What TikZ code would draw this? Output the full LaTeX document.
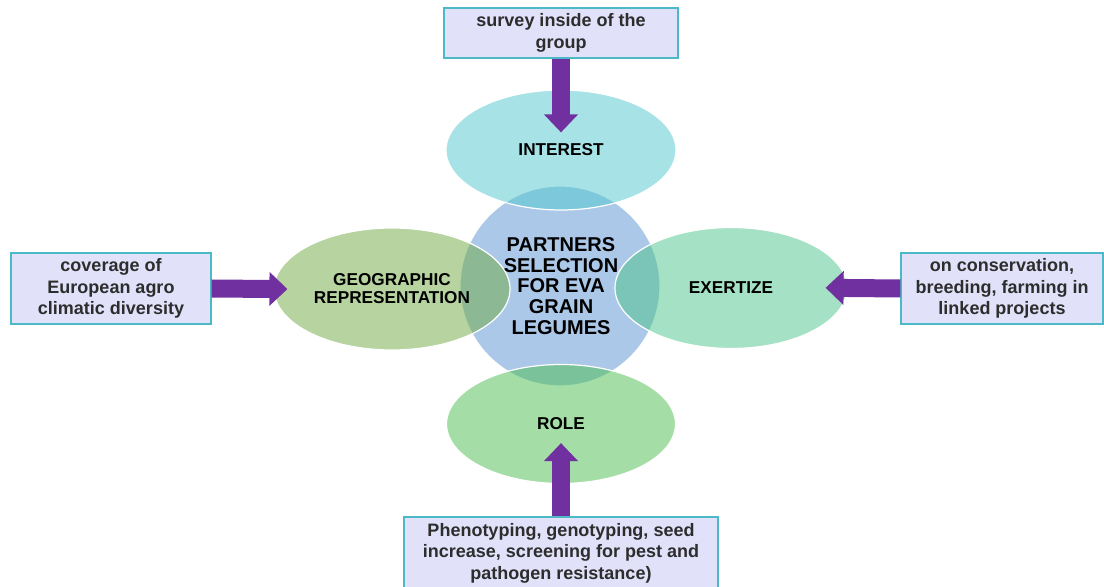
\documentclass[tikz,border=0pt]{standalone}
\usepackage{fontspec}
\setmainfont{Liberation Sans}
\usetikzlibrary{shapes.geometric, arrows.meta}
\definecolor{arrowpurple}{RGB}{112, 48, 160}
\definecolor{boxlilac}{RGB}{225, 225, 250}
\definecolor{boxteal}{RGB}{75, 185, 200}
\definecolor{hubblue}{RGB}{172, 200, 232}
\definecolor{interestteal}{RGB}{80, 200, 205}
\definecolor{geogreen}{RGB}{111, 169, 65}
\definecolor{expertmint}{RGB}{75, 195, 137}
\definecolor{rolegreen}{RGB}{73, 189, 77}
\definecolor{labelgray}{RGB}{45, 45, 45}

\begin{document}
\begin{tikzpicture}[
    x=0.5pt, y=-0.5pt,
    infobox/.style={rectangle, draw=boxteal, line width=0.6pt, fill=boxlilac, align=center,
                    inner sep=0pt, text=labelgray, font=\fontsize{9}{10.75}\selectfont\bfseries},
    topic/.style={ellipse, draw=white, line width=0.6pt, fill opacity=0.5, text opacity=1,
                  inner sep=0pt, align=center, font=\fontsize{8.6}{9}\selectfont\bfseries},
    feed/.style={draw=arrowpurple, line width=9pt, -{Triangle[width=16.5pt, length=9pt]}}
]
    \useasboundingbox (0,0) rectangle (1104,587);

    % hub circle, its label goes on top of the ellipses
    \node[circle, draw=white, line width=0.6pt, fill=hubblue, minimum size=100pt] (hub) at (560,286) {};

    % four criteria around the hub
    \node[topic, fill=interestteal, minimum width=115pt, minimum height=60pt] (interest) at (561,150) {INTEREST};
    \node[topic, fill=geogreen, minimum width=118pt, minimum height=61pt] (geo) at (392,289) {GEOGRAPHIC\\REPRESENTATION};
    \node[topic, fill=expertmint, minimum width=116pt, minimum height=60.5pt] (expert) at (731,288) {EXERTIZE};
    \node[topic, fill=rolegreen, minimum width=114.5pt, minimum height=59.5pt] (role) at (561,424) {ROLE};

    \node[align=center, font=\fontsize{10}{10.3}\selectfont\bfseries] (hubtext) at (561,286)
        {PARTNERS\\SELECTION\\FOR EVA\\GRAIN\\LEGUMES};

    % input boxes
    \node[infobox, minimum width=117pt, minimum height=25pt] (survey) at (561,33)
        {survey inside of the\\group};
    \node[infobox, minimum width=100pt, minimum height=35.5pt] (coverage) at (111,288.5)
        {coverage of\\European agro\\climatic diversity};
    \node[infobox, minimum width=101pt, minimum height=35.5pt] (linked) at (1002,288.5)
        {on conservation,\\breeding, farming in\\linked projects};
    \node[infobox, minimum width=157pt, minimum height=36pt] (pheno) at (561,553)
        {Phenotyping, genotyping, seed\\increase, screening for pest and\\pathogen resistance)};

    % block arrows into the ellipses
    \draw[feed, shorten >=-21.5pt] (survey.south) -- (interest.north);
    \draw[feed, shorten >=-7pt] (coverage.east) -- (geo.west);
    \draw[feed, shorten >=-11pt] (linked.west) -- (expert.east);
    \draw[feed, shorten >=-20.5pt] (pheno.north) -- (role.south);
\end{tikzpicture}
\end{document}
